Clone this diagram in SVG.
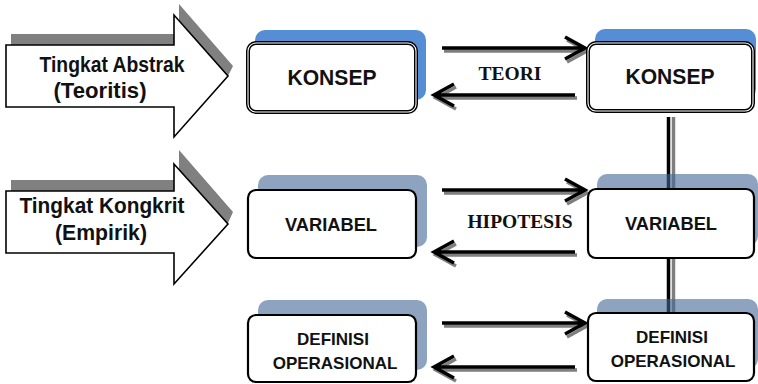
<svg xmlns="http://www.w3.org/2000/svg" width="758" height="384" viewBox="0 0 758 384">
<defs>
<style>
.bg{fill:#ffffff}
.ashadow{fill:#808080}
.abody{fill:#ffffff;stroke:#000;stroke-width:1.6;stroke-linejoin:miter}
.atxt{font-family:"Liberation Sans",Arial,sans-serif;font-weight:bold;font-size:22px;fill:#111;text-anchor:middle}
.shb{fill:#558ED5}
.shg{fill:#436596;opacity:0.6}
.box{fill:#fff;stroke:#000;stroke-width:2.2}
.dbox{fill:#fff;stroke:#000;stroke-width:4}
.dinner{fill:none;stroke:#fff;stroke-width:1.1}
.btxt{font-family:"Liberation Sans",Arial,sans-serif;font-weight:bold;fill:#111;text-anchor:middle}
.dtxt{font-family:"Liberation Sans",Arial,sans-serif;font-weight:bold;font-size:17px;fill:#111;text-anchor:middle}
.ltxt{font-family:"Liberation Serif","Times New Roman",serif;font-weight:bold;font-size:19.5px;fill:#111;text-anchor:middle}
.cs{fill:none;stroke:#7f7f7f;stroke-width:3.5}
.cb{fill:none;stroke:#000;stroke-width:3.5}
</style>
</defs>
<rect class="bg" x="0" y="0" width="758" height="384"/>

<g id="arrow-abstrak">
<polygon class="ashadow" points="11,34 179,34 179,4 233,66 228,76 11,76"/>
<polygon class="abody" points="6,45 174,45 174,15 228,76 174,137 174,107 6,107"/>
<text class="atxt" x="112" y="72" textLength="145" lengthAdjust="spacingAndGlyphs">Tingkat Abstrak</text>
<text class="atxt" x="100" y="98" textLength="93" lengthAdjust="spacingAndGlyphs">(Teoritis)</text>
</g>

<g id="arrow-kongkrit">
<polygon class="ashadow" points="11,180 179,180 179,150 233,212 228,223 11,223"/>
<polygon class="abody" points="6,191 174,191 174,164 228,224 174,284 174,253 6,253"/>
<text class="atxt" x="102" y="213" textLength="165" lengthAdjust="spacingAndGlyphs">Tingkat Kongkrit</text>
<text class="atxt" x="101" y="240" textLength="92" lengthAdjust="spacingAndGlyphs">(Empirik)</text>
</g>

<g id="connectors">
<line x1="673.5" y1="117" x2="673.5" y2="313" stroke="#7f7f7f" stroke-width="3.5"/>
<line x1="668.5" y1="117" x2="668.5" y2="313" stroke="#000" stroke-width="3.5"/>
<g transform="translate(2,3)">
<path class="cs" d="M442,48 H583 M565,37 L585,48 L565,59"/>
<path class="cs" d="M575,95 H436 M454,84 L434,95 L454,106"/>
<path class="cs" d="M442,190 H583 M565,179 L585,190 L565,201"/>
<path class="cs" d="M575,252 H436 M454,241 L434,252 L454,263"/>
<path class="cs" d="M442,323 H583 M565,312 L585,323 L565,334"/>
<path class="cs" d="M575,367 H436 M454,356 L434,367 L454,378"/>
</g>
<path class="cb" d="M442,48 H583 M565,37 L585,48 L565,59"/>
<path class="cb" d="M575,95 H436 M454,84 L434,95 L454,106"/>
<path class="cb" d="M442,190 H583 M565,179 L585,190 L565,201"/>
<path class="cb" d="M575,252 H436 M454,241 L434,252 L454,263"/>
<path class="cb" d="M442,323 H583 M565,312 L585,323 L565,334"/>
<path class="cb" d="M575,367 H436 M454,356 L434,367 L454,378"/>
<text class="ltxt" x="510" y="80">TEORI</text>
<text class="ltxt" x="520" y="228">HIPOTESIS</text>
</g>

<g id="konsep-left">
<rect class="shb" x="255" y="30" width="171" height="70" rx="10"/>
<rect class="dbox" x="248" y="43" width="168" height="69" rx="8"/>
<rect class="dinner" x="248" y="43" width="168" height="69" rx="8"/>
<text class="btxt" x="332" y="85" font-size="22" textLength="89" lengthAdjust="spacingAndGlyphs">KONSEP</text>
</g>

<g id="konsep-right">
<rect class="shb" x="595" y="29" width="161" height="70" rx="10"/>
<rect class="dbox" x="588" y="43" width="165" height="68" rx="8"/>
<rect class="dinner" x="588" y="43" width="165" height="68" rx="8"/>
<text class="btxt" x="670" y="84" font-size="22" textLength="89" lengthAdjust="spacingAndGlyphs">KONSEP</text>
</g>

<g id="variabel-left">
<rect class="shg" x="258" y="175" width="169" height="72" rx="10"/>
<rect class="box" x="248" y="190" width="168" height="68" rx="8"/>
<text class="btxt" x="331" y="231" font-size="18.5" textLength="92" lengthAdjust="spacingAndGlyphs">VARIABEL</text>
</g>

<g id="variabel-right">
<rect class="shg" x="597" y="174" width="161" height="72" rx="10"/>
<rect class="box" x="588" y="189" width="166" height="69" rx="8"/>
<text class="btxt" x="671" y="230" font-size="18.5" textLength="92" lengthAdjust="spacingAndGlyphs">VARIABEL</text>
</g>

<g id="definisi-left">
<rect class="shg" x="258" y="300" width="169" height="70" rx="10"/>
<rect class="box" x="248" y="315" width="168" height="67" rx="8"/>
<text class="dtxt" x="333" y="345">DEFINISI</text>
<text class="dtxt" x="335" y="369">OPERASIONAL</text>
</g>

<g id="definisi-right">
<rect class="shg" x="597" y="299" width="161" height="70" rx="10"/>
<rect class="box" x="588" y="313" width="166" height="68" rx="8"/>
<text class="dtxt" x="672" y="343">DEFINISI</text>
<text class="dtxt" x="673" y="367">OPERASIONAL</text>
</g>
</svg>
